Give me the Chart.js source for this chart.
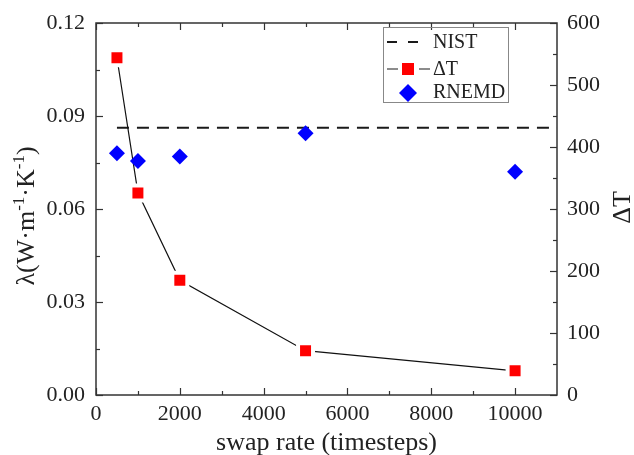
<!DOCTYPE html>
<html>
<head>
<meta charset="utf-8">
<script src="https://cdn.jsdelivr.net/npm/chart.js@4"></script>
<style>
  html, body { margin: 0; padding: 0; background: #ffffff; }
  #wrap { width: 634px; height: 455px; }
</style>
</head>
<body>
<div id="wrap"><canvas id="c" width="634" height="455"></canvas></div>
<script>
// Thermal conductivity and temperature difference vs. swap rate
const swapRates   = [500, 1000, 2000, 5000, 10000];
const deltaT      = [544, 326, 185, 71.5, 39];
const rnemdLambda = [0.0780, 0.0755, 0.0769, 0.0844, 0.0720];
const nistLambda  = 0.0862;
const nistRange   = [500, 11000];

const xTicks      = [0, 2000, 4000, 6000, 8000, 10000];
const lambdaTicks = [0, 0.03, 0.06, 0.09, 0.12];
const deltaTTicks = [0, 100, 200, 300, 400, 500, 600];

const SERIF = "'Liberation Serif', 'Times New Roman', serif";
const INK = '#222222';

Chart.defaults.font.family = SERIF;
Chart.defaults.font.size = 22;
Chart.defaults.color = INK;

function minorsBetween(arr) {
  const out = [];
  for (let i = 0; i < arr.length - 1; i++) out.push((arr[i] + arr[i + 1]) / 2);
  return out;
}

// Box around the plot area with inward-pointing major/minor ticks
const framePlugin = {
  id: 'frame',
  afterDatasetsDraw(chart) {
    const { ctx, chartArea: a, scales } = chart;
    const xs = scales.x, yl = scales.y, yr = scales.y2;
    ctx.save();
    ctx.strokeStyle = '#333333';
    ctx.lineWidth = 1.5;
    ctx.strokeRect(a.left, a.top, a.right - a.left, a.bottom - a.top);
    ctx.lineWidth = 1.2;
    const MAJ = 7, MIN = 4;
    const xMin = minorsBetween(xTicks);
    const drawX = (v, len) => {
      const p = Math.round(xs.getPixelForValue(v)) + 0.5;
      ctx.beginPath();
      ctx.moveTo(p, a.bottom); ctx.lineTo(p, a.bottom - len);
      ctx.moveTo(p, a.top); ctx.lineTo(p, a.top + len);
      ctx.stroke();
    };
    xTicks.forEach(v => drawX(v, MAJ));
    xMin.forEach(v => drawX(v, MIN));
    const drawY = (scale, v, len, left) => {
      const p = Math.round(scale.getPixelForValue(v)) + 0.5;
      ctx.beginPath();
      if (left) { ctx.moveTo(a.left, p); ctx.lineTo(a.left + len, p); }
      else { ctx.moveTo(a.right, p); ctx.lineTo(a.right - len, p); }
      ctx.stroke();
    };
    lambdaTicks.forEach(v => drawY(yl, v, MAJ, true));
    minorsBetween(lambdaTicks).forEach(v => drawY(yl, v, MIN, true));
    deltaTTicks.forEach(v => drawY(yr, v, MAJ, false));
    minorsBetween(deltaTTicks).forEach(v => drawY(yr, v, MIN, false));
    ctx.restore();
  }
};

// Axis titles (left title carries superscript units)
const titlePlugin = {
  id: 'titles',
  afterDraw(chart) {
    const { ctx, chartArea: a } = chart;
    ctx.save();
    ctx.fillStyle = INK;
    ctx.textBaseline = 'alphabetic';

    // bottom
    ctx.font = `26px ${SERIF}`;
    ctx.textAlign = 'center';
    ctx.fillText('swap rate (timesteps)', (a.left + a.right) / 2, 450);

    // left, rotated
    const parts = [
      ['λ(W·m', 0], ['-1', 1], ['·K', 0], ['-1', 1], [')', 0]
    ];
    const mainFont = `26px ${SERIF}`, supFont = `17px ${SERIF}`;
    let total = 0;
    parts.forEach(([t, s]) => { ctx.font = s ? supFont : mainFont; total += ctx.measureText(t).width; });
    ctx.translate(34, (a.top + a.bottom) / 2 + 7);
    ctx.rotate(-Math.PI / 2);
    ctx.textAlign = 'left';
    let x = -total / 2;
    parts.forEach(([t, s]) => {
      ctx.font = s ? supFont : mainFont;
      ctx.fillText(t, x, s ? -10 : 0);
      x += ctx.measureText(t).width;
    });
    ctx.setTransform(1, 0, 0, 1, 0, 0);

    // right, rotated
    ctx.font = mainFont;
    ctx.textAlign = 'center';
    ctx.translate(630, 207.5);
    ctx.rotate(-Math.PI / 2);
    ctx.fillText('ΔT', 0, 0);
    ctx.restore();
  }
};

// Legend box in the upper right of the plot
const legendPlugin = {
  id: 'boxLegend',
  afterDraw(chart) {
    const { ctx } = chart;
    ctx.save();
    ctx.strokeStyle = '#888888';
    ctx.lineWidth = 1;
    ctx.strokeRect(383.5, 27.5, 125, 75);
    ctx.font = `20px ${SERIF}`;
    ctx.fillStyle = INK;
    ctx.textAlign = 'left';
    ctx.textBaseline = 'middle';
    const tx = 433;
    // NIST
    ctx.strokeStyle = '#1a1a1a';
    ctx.lineWidth = 2;
    ctx.beginPath();
    ctx.moveTo(387, 42); ctx.lineTo(397, 42);
    ctx.moveTo(408, 42); ctx.lineTo(418, 42);
    ctx.stroke();
    ctx.fillText('NIST', tx, 43);
    // ΔT
    ctx.lineWidth = 1.2;
    ctx.beginPath();
    ctx.moveTo(387, 69); ctx.lineTo(398, 69);
    ctx.moveTo(419, 69); ctx.lineTo(430, 69);
    ctx.stroke();
    ctx.fillStyle = '#ff0000';
    ctx.fillRect(402, 63, 12, 12);
    ctx.fillStyle = INK;
    ctx.fillText('ΔT', tx, 70);
    // RNEMD
    ctx.fillStyle = '#0000ff';
    ctx.beginPath();
    ctx.moveTo(408, 84); ctx.lineTo(417, 93); ctx.lineTo(408, 102); ctx.lineTo(399, 93);
    ctx.closePath();
    ctx.fill();
    ctx.fillStyle = INK;
    ctx.fillText('RNEMD', tx, 93);
    ctx.restore();
  }
};

const tickFont = { family: SERIF, size: 22 };

new Chart(document.getElementById('c'), {
  type: 'line',
  data: {
    datasets: [
      {
        label: 'RNEMD',
        data: swapRates.map((x, i) => ({ x, y: rnemdLambda[i] })),
        yAxisID: 'y',
        showLine: false,
        pointStyle: 'rectRot',
        pointRadius: 8,
        pointBackgroundColor: '#0000ff',
        pointBorderWidth: 0,
        borderColor: '#0000ff'
      },
      {
        label: 'ΔT',
        data: swapRates.map((x, i) => ({ x, y: deltaT[i] })),
        yAxisID: 'y2',
        borderColor: '#111111',
        borderWidth: 1.2,
        pointStyle: 'rect',
        pointRadius: 10.6,
        pointBackgroundColor: '#ff0000',
        pointBorderColor: '#ffffff',
        pointBorderWidth: 4
      },
      {
        label: 'NIST',
        data: nistRange.map(x => ({ x, y: nistLambda })),
        yAxisID: 'y',
        borderColor: '#1a1a1a',
        borderWidth: 2,
        borderDash: [12, 8],
        pointRadius: 0
      }
    ]
  },
  options: {
    responsive: false,
    animation: false,
    devicePixelRatio: 1,
    events: [],
    layout: { padding: { top: 23, left: 0, right: 0, bottom: 0 } },
    plugins: { legend: { display: false }, tooltip: { enabled: false } },
    scales: {
      x: {
        type: 'linear',
        position: 'bottom',
        min: 0, max: 11000,
        afterBuildTicks: s => { s.ticks = xTicks.map(v => ({ value: v })); },
        afterFit: s => { s.height = 60; },
        grid: { display: false },
        border: { display: false },
        ticks: { font: tickFont, color: INK, padding: -2, maxRotation: 0, autoSkip: false,
                 callback: v => String(v) }
      },
      y: {
        type: 'linear',
        position: 'left',
        min: 0, max: 0.12,
        afterBuildTicks: s => { s.ticks = lambdaTicks.map(v => ({ value: v })); },
        afterFit: s => { s.width = 96; },
        grid: { display: false },
        border: { display: false },
        ticks: { font: tickFont, color: INK, padding: 3, callback: v => Number(v).toFixed(2) }
      },
      y2: {
        type: 'linear',
        position: 'right',
        min: 0, max: 600,
        afterBuildTicks: s => { s.ticks = deltaTTicks.map(v => ({ value: v })); },
        afterFit: s => { s.width = 77; },
        grid: { display: false },
        border: { display: false },
        ticks: { font: tickFont, color: INK, padding: 2, callback: v => String(v) }
      }
    }
  },
  plugins: [framePlugin, titlePlugin, legendPlugin]
});
</script>
</body>
</html>
